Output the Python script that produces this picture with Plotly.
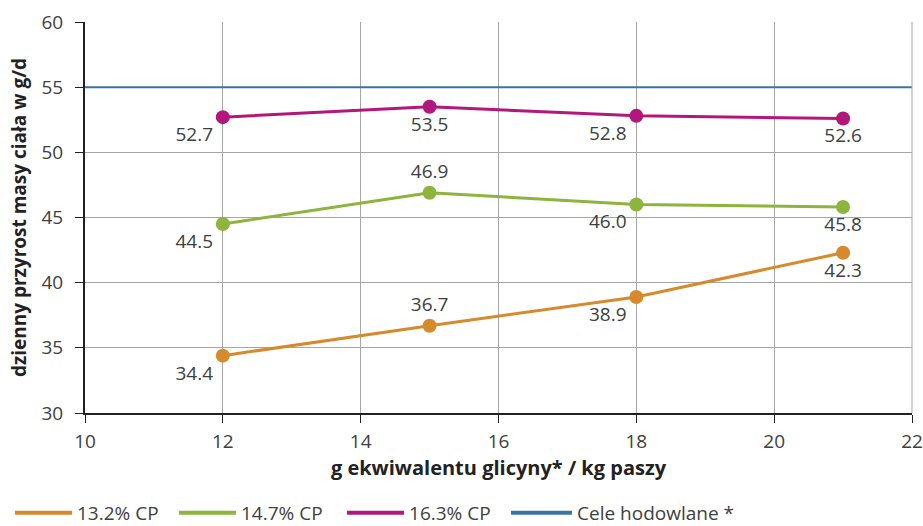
import plotly.graph_objects as go

x_vals = [12, 15, 18, 21]
cp132 = [34.4, 36.7, 38.9, 42.3]
cp147 = [44.5, 46.9, 46.0, 45.8]
cp163 = [52.7, 53.5, 52.8, 52.6]
target_x = [10, 22]
target_y = [55, 55]

series_names = ["13.2% CP", "14.7% CP", "16.3% CP", "Cele hodowlane *"]
colors = ["#D68A2C", "#8DB43C", "#B3177C", "#3C72A8"]

pos_132 = ["bottom left", "top center", "bottom left", "bottom center"]
pos_147 = ["bottom left", "top center", "bottom left", "bottom center"]
pos_163 = ["bottom left", "bottom center", "bottom left", "bottom center"]

font_family = "Open Sans, Noto Sans, sans-serif"

fig = go.Figure()
for vals, name, col, pos in [(cp132, series_names[0], colors[0], pos_132),
                             (cp147, series_names[1], colors[1], pos_147),
                             (cp163, series_names[2], colors[2], pos_163)]:
    fig.add_trace(go.Scatter(
        x=x_vals, y=vals, name=name, mode="lines+markers+text",
        line=dict(color=col, width=3), marker=dict(color=col, size=14),
        text=[f"{v:.1f}" for v in vals], textposition=pos,
        textfont=dict(size=19, color="#404040", family=font_family),
        cliponaxis=False, showlegend=False,
    ))
fig.add_trace(go.Scatter(
    x=target_x, y=target_y, name=series_names[3], mode="lines",
    line=dict(color=colors[3], width=2), showlegend=False,
))

# legend entries (line only, as in the original), one legend box per entry
legend_ids = ["legend", "legend2", "legend3", "legend4"]
legend_x = [-0.0907, 0.1076, 0.3108, 0.5091]
legend_itemwidth = [57, 57, 57, 61]
for name, col, lg in zip(series_names, colors, legend_ids):
    fig.add_trace(go.Scatter(x=[None], y=[None], name=name, mode="lines",
                             line=dict(color=col, width=4), showlegend=True,
                             legend=lg))

legend_layout = {}
for lg, lx, iw in zip(legend_ids, legend_x, legend_itemwidth):
    legend_layout[lg] = dict(orientation="h", x=lx, y=-0.2558, xanchor="left",
                             yanchor="middle", font=dict(size=19, color="#404040"),
                             itemwidth=iw, bgcolor="rgba(0,0,0,0)")

fig.update_layout(
    width=923, height=526,
    margin=dict(l=85, r=11, t=22, b=113, autoexpand=False),
    paper_bgcolor="white", plot_bgcolor="white",
    font=dict(family=font_family, color="#404040", size=19),
    showlegend=True,
    **legend_layout,
    xaxis=dict(range=[10, 22], dtick=2, tick0=10, showgrid=True, gridcolor="#A6A6A6",
               gridwidth=1, showline=True, linecolor="#222222", linewidth=2,
               ticks="outside", ticklen=8, tickcolor="#222222",
               tickfont=dict(size=19, color="#404040"), zeroline=False,
               automargin=False, ticklabeloverflow="allow", ticklabelstandoff=2,
               title=dict(text="<b>g ekwiwalentu glicyny* / kg paszy</b>",
                          font=dict(size=20, color="#222222"), standoff=8)),
    yaxis=dict(range=[30, 60], dtick=5, showgrid=True, gridcolor="#A6A6A6",
               gridwidth=1, showline=True, linecolor="#222222", linewidth=2,
               ticks="outside", ticklen=8, tickcolor="#222222",
               tickfont=dict(size=19, color="#404040"), zeroline=False,
               automargin=False, ticklabelstandoff=8,
               title=dict(text="<b>dzienny przyrost masy ciała w g/d</b>",
                          font=dict(size=19, color="#222222"), standoff=10)),
)
fig.add_shape(type="line", xref="paper", yref="paper", x0=1, x1=1, y0=0, y1=1,
              line=dict(color="#A6A6A6", width=1))

fig.write_html("out.html", config={"displayModeBar": False},
               post_script="document.body.style.margin='0';")
